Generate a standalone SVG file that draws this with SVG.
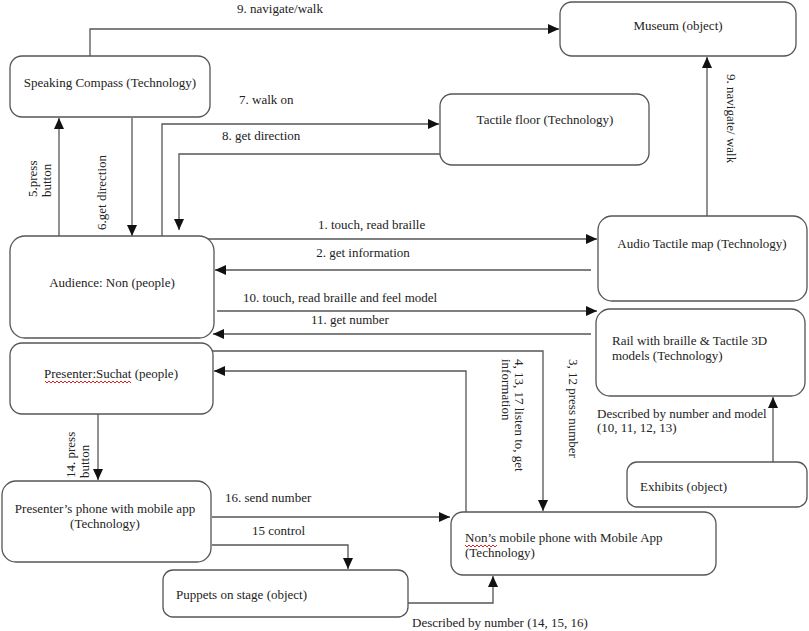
<svg xmlns="http://www.w3.org/2000/svg" width="809" height="631" viewBox="0 0 809 631">
<defs>
<style>
.box{fill:#fff;stroke:#555;stroke-width:1.3}
.ln{fill:none;stroke:#555;stroke-width:1.3}
text{font-family:"Liberation Serif","Times New Roman",serif;font-size:13px;fill:#222}
.m{text-anchor:middle}
.sq{fill:none;stroke:#d22;stroke-width:1}
</style>
<marker id="ah" markerUnits="userSpaceOnUse" markerWidth="12" markerHeight="10" refX="11" refY="5" orient="auto">
<path d="M0,0 L11,5 L0,10 Z" fill="#111"/>
</marker>
</defs>
<rect width="809" height="631" fill="#fff"/>

<g id="connectors">
<polyline class="ln" points="90,56 90,29 559,29" marker-end="url(#ah)"/>
<text class="m" x="280" y="13">9. navigate/walk</text>
<polyline class="ln" points="162,236 162,124 439,124" marker-end="url(#ah)"/>
<text x="239" y="104">7. walk on</text>
<polyline class="ln" points="440,154 179,154 179,230" marker-end="url(#ah)"/>
<text x="222" y="140">8. get direction</text>
<line class="ln" x1="59" y1="236" x2="59" y2="118" marker-end="url(#ah)"/>
<text transform="translate(37,197) rotate(-90)">5.press</text>
<text transform="translate(51,197) rotate(-90)">button</text>
<line class="ln" x1="132" y1="118" x2="132" y2="236" marker-end="url(#ah)"/>
<text transform="translate(106,230) rotate(-90)">6.get direction</text>
<line class="ln" x1="707" y1="216" x2="707" y2="57" marker-end="url(#ah)"/>
<text transform="translate(727,74) rotate(90)">9. navigate/ walk</text>
<line class="ln" x1="203" y1="239" x2="597" y2="239" marker-end="url(#ah)"/>
<text x="318" y="229">1. touch, read braille</text>
<line class="ln" x1="591" y1="270" x2="215" y2="270" marker-end="url(#ah)"/>
<text class="m" x="363" y="257">2. get information</text>
<line class="ln" x1="217" y1="311" x2="597" y2="311" marker-end="url(#ah)"/>
<text x="243" y="302">10. touch, read braille and feel model</text>
<line class="ln" x1="591" y1="334" x2="213" y2="334" marker-end="url(#ah)"/>
<text class="m" x="350" y="324">11. get number</text>
<polyline class="ln" points="212,351 543,351 543,511" marker-end="url(#ah)"/>
<text transform="translate(569,359) rotate(90)">3, 12 press number</text>
<polyline class="ln" points="466,512 466,371 214,371" marker-end="url(#ah)"/>
<text transform="translate(515,359) rotate(90)">4, 13, 17 listen to, get</text>
<text transform="translate(502,359) rotate(90)">information</text>
<line class="ln" x1="98" y1="414" x2="98" y2="480" marker-end="url(#ah)"/>
<text transform="translate(75,478) rotate(-90)">14. press</text>
<text transform="translate(89,478) rotate(-90)">button</text>
<line class="ln" x1="212" y1="517" x2="450" y2="517" marker-end="url(#ah)"/>
<text x="225" y="502">16. send number</text>
<polyline class="ln" points="212,545 348,545 348,569" marker-end="url(#ah)"/>
<text x="252" y="535">15 control</text>
<polyline class="ln" points="408,603 493,603 493,576" marker-end="url(#ah)"/>
<text x="412" y="627">Described by number (14, 15, 16)</text>
<line class="ln" x1="773" y1="462" x2="773" y2="397" marker-end="url(#ah)"/>
<text x="597" y="418">Described by number and model</text>
<text x="597" y="432">(10, 11, 12, 13)</text>
</g>

<g id="speaking-compass">
<rect class="box" x="10" y="56" width="200" height="61" rx="12"/>
<text class="m" x="110" y="87">Speaking Compass (Technology)</text>
</g>
<g id="museum">
<rect class="box" x="560" y="2" width="236" height="54" rx="12"/>
<text class="m" x="678" y="30">Museum (object)</text>
</g>
<g id="tactile-floor">
<rect class="box" x="440" y="94" width="209" height="71" rx="12"/>
<text class="m" x="545" y="124">Tactile floor (Technology)</text>
</g>
<g id="audience">
<rect class="box" x="10" y="236" width="204" height="102" rx="15"/>
<text class="m" x="112" y="287">Audience: Non (people)</text>
</g>
<g id="presenter">
<rect class="box" x="10" y="343" width="203" height="71" rx="12"/>
<text class="m" x="111" y="378">Presenter:Suchat (people)</text>
<path class="sq" d="M45,381 l2,2 l2,-2 l2,2 l2,-2 l2,2 l2,-2 l2,2 l2,-2 l2,2 l2,-2 l2,2 l2,-2 l2,2 l2,-2 l2,2 l2,-2 l2,2 l2,-2 l2,2 l2,-2 l2,2 l2,-2 l2,2 l2,-2 l2,2 l2,-2 l2,2 l2,-2 l2,2 l2,-2 l2,2 l2,-2 l2,2 l2,-2 l2,2 l2,-2 l2,2 l2,-2 l2,2 l2,-2 l2,2 l2,-2 l2,2"/>
</g>
<g id="audio-tactile-map">
<rect class="box" x="598" y="216" width="209" height="85" rx="14"/>
<text class="m" x="702" y="248">Audio Tactile map (Technology)</text>
</g>
<g id="rail">
<rect class="box" x="596" y="309" width="209" height="87" rx="14"/>
<text x="612" y="345">Rail with braille &amp; Tactile 3D</text>
<text x="612" y="360">models (Technology)</text>
</g>
<g id="presenter-phone">
<rect class="box" x="2" y="481" width="209" height="81" rx="14"/>
<text class="m" x="105" y="513">Presenter’s phone with mobile app</text>
<text class="m" x="105" y="528">(Technology)</text>
</g>
<g id="puppets">
<rect class="box" x="163" y="570" width="245" height="47" rx="10"/>
<text x="176" y="599">Puppets on stage (object)</text>
</g>
<g id="non-phone">
<rect class="box" x="451" y="512" width="265" height="63" rx="12"/>
<text x="465" y="542">Non’s mobile phone with Mobile App</text>
<text x="465" y="557">(Technology)</text>
<path class="sq" d="M465,545 l2,2 l2,-2 l2,2 l2,-2 l2,2 l2,-2 l2,2 l2,-2 l2,2 l2,-2 l2,2 l2,-2 l2,2 l2,-2 l2,2 l2,-2"/>
</g>
<g id="exhibits">
<rect class="box" x="627" y="462" width="180" height="45" rx="10"/>
<text x="640" y="491">Exhibits  (object)</text>
</g>
</svg>
